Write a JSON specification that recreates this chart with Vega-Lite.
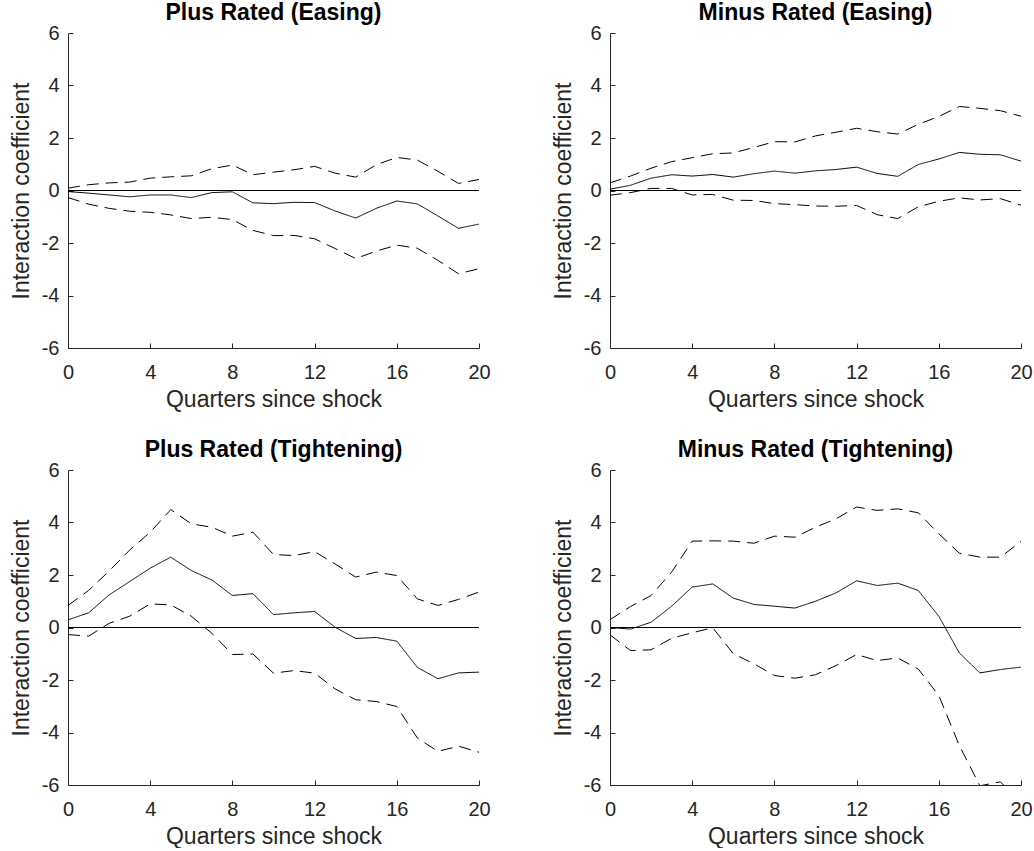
{
  "$schema": "https://vega.github.io/schema/vega-lite/v6.json",
  "background": "white",
  "padding": {"left": 10, "top": 2, "right": 0, "bottom": 0},
  "config": {
    "font": "Liberation Sans",
    "view": {"stroke": null},
    "axis": {
      "grid": false,
      "domainColor": "#262626",
      "domainWidth": 1,
      "tickColor": "#262626",
      "tickWidth": 1,
      "tickSize": -5,
      "labelColor": "#262626",
      "labelFontSize": 20,
      "labelFont": "Liberation Sans",
      "labelFlush": false,
      "labelOverlap": false,
      "titleColor": "#262626",
      "titleFontSize": 23,
      "titleFont": "Liberation Sans",
      "titleFontWeight": "normal"
    },
    "axisX": {"labelPadding": 19, "titlePadding": 6},
    "axisY": {"labelPadding": 14, "titlePadding": 8},
    "title": {
      "fontSize": 23,
      "fontWeight": "bold",
      "color": "black",
      "font": "Liberation Sans",
      "anchor": "middle",
      "frame": "group",
      "baseline": "alphabetic",
      "offset": -2
    }
  },
  "datasets": {
    "irf": [
      {"p": "PE", "q": 0, "est": -0.04, "hi": 0.09, "lo": -0.27},
      {"p": "PE", "q": 1, "est": -0.10, "hi": 0.22, "lo": -0.52},
      {"p": "PE", "q": 2, "est": -0.17, "hi": 0.29, "lo": -0.68},
      {"p": "PE", "q": 3, "est": -0.24, "hi": 0.32, "lo": -0.79},
      {"p": "PE", "q": 4, "est": -0.17, "hi": 0.47, "lo": -0.83},
      {"p": "PE", "q": 5, "est": -0.17, "hi": 0.52, "lo": -0.93},
      {"p": "PE", "q": 6, "est": -0.27, "hi": 0.56, "lo": -1.07},
      {"p": "PE", "q": 7, "est": -0.08, "hi": 0.83, "lo": -1.02},
      {"p": "PE", "q": 8, "est": -0.05, "hi": 0.97, "lo": -1.11},
      {"p": "PE", "q": 9, "est": -0.47, "hi": 0.60, "lo": -1.52},
      {"p": "PE", "q": 10, "est": -0.50, "hi": 0.70, "lo": -1.72},
      {"p": "PE", "q": 11, "est": -0.45, "hi": 0.79, "lo": -1.71},
      {"p": "PE", "q": 12, "est": -0.46, "hi": 0.92, "lo": -1.84},
      {"p": "PE", "q": 13, "est": -0.78, "hi": 0.66, "lo": -2.21},
      {"p": "PE", "q": 14, "est": -1.05, "hi": 0.51, "lo": -2.59},
      {"p": "PE", "q": 15, "est": -0.68, "hi": 0.98, "lo": -2.31},
      {"p": "PE", "q": 16, "est": -0.40, "hi": 1.26, "lo": -2.08},
      {"p": "PE", "q": 17, "est": -0.51, "hi": 1.16, "lo": -2.20},
      {"p": "PE", "q": 18, "est": -0.97, "hi": 0.73, "lo": -2.66},
      {"p": "PE", "q": 19, "est": -1.44, "hi": 0.27, "lo": -3.17},
      {"p": "PE", "q": 20, "est": -1.28, "hi": 0.42, "lo": -2.98},

      {"p": "ME", "q": 0, "est": 0.05, "hi": 0.29, "lo": -0.18},
      {"p": "ME", "q": 1, "est": 0.20, "hi": 0.55, "lo": -0.08},
      {"p": "ME", "q": 2, "est": 0.47, "hi": 0.85, "lo": 0.08},
      {"p": "ME", "q": 3, "est": 0.60, "hi": 1.10, "lo": 0.08},
      {"p": "ME", "q": 4, "est": 0.55, "hi": 1.25, "lo": -0.17},
      {"p": "ME", "q": 5, "est": 0.61, "hi": 1.40, "lo": -0.15},
      {"p": "ME", "q": 6, "est": 0.51, "hi": 1.43, "lo": -0.37},
      {"p": "ME", "q": 7, "est": 0.64, "hi": 1.64, "lo": -0.38},
      {"p": "ME", "q": 8, "est": 0.74, "hi": 1.86, "lo": -0.50},
      {"p": "ME", "q": 9, "est": 0.66, "hi": 1.85, "lo": -0.54},
      {"p": "ME", "q": 10, "est": 0.75, "hi": 2.08, "lo": -0.59},
      {"p": "ME", "q": 11, "est": 0.80, "hi": 2.22, "lo": -0.60},
      {"p": "ME", "q": 12, "est": 0.89, "hi": 2.37, "lo": -0.57},
      {"p": "ME", "q": 13, "est": 0.65, "hi": 2.24, "lo": -0.92},
      {"p": "ME", "q": 14, "est": 0.54, "hi": 2.15, "lo": -1.07},
      {"p": "ME", "q": 15, "est": 0.99, "hi": 2.52, "lo": -0.62},
      {"p": "ME", "q": 16, "est": 1.20, "hi": 2.82, "lo": -0.41},
      {"p": "ME", "q": 17, "est": 1.45, "hi": 3.20, "lo": -0.28},
      {"p": "ME", "q": 18, "est": 1.38, "hi": 3.13, "lo": -0.36},
      {"p": "ME", "q": 19, "est": 1.36, "hi": 3.04, "lo": -0.31},
      {"p": "ME", "q": 20, "est": 1.12, "hi": 2.83, "lo": -0.56},

      {"p": "PT", "q": 0, "est": 0.29, "hi": 0.84, "lo": -0.27},
      {"p": "PT", "q": 1, "est": 0.56, "hi": 1.41, "lo": -0.33},
      {"p": "PT", "q": 2, "est": 1.24, "hi": 2.15, "lo": 0.16},
      {"p": "PT", "q": 3, "est": 1.75, "hi": 2.95, "lo": 0.43},
      {"p": "PT", "q": 4, "est": 2.26, "hi": 3.63, "lo": 0.90},
      {"p": "PT", "q": 5, "est": 2.68, "hi": 4.49, "lo": 0.86},
      {"p": "PT", "q": 6, "est": 2.17, "hi": 3.95, "lo": 0.43},
      {"p": "PT", "q": 7, "est": 1.81, "hi": 3.82, "lo": -0.22},
      {"p": "PT", "q": 8, "est": 1.22, "hi": 3.48, "lo": -1.03},
      {"p": "PT", "q": 9, "est": 1.29, "hi": 3.63, "lo": -1.01},
      {"p": "PT", "q": 10, "est": 0.49, "hi": 2.78, "lo": -1.74},
      {"p": "PT", "q": 11, "est": 0.56, "hi": 2.74, "lo": -1.64},
      {"p": "PT", "q": 12, "est": 0.61, "hi": 2.89, "lo": -1.74},
      {"p": "PT", "q": 13, "est": 0.01, "hi": 2.42, "lo": -2.34},
      {"p": "PT", "q": 14, "est": -0.42, "hi": 1.92, "lo": -2.75},
      {"p": "PT", "q": 15, "est": -0.38, "hi": 2.11, "lo": -2.82},
      {"p": "PT", "q": 16, "est": -0.52, "hi": 1.98, "lo": -3.01},
      {"p": "PT", "q": 17, "est": -1.52, "hi": 1.09, "lo": -4.21},
      {"p": "PT", "q": 18, "est": -1.95, "hi": 0.84, "lo": -4.72},
      {"p": "PT", "q": 19, "est": -1.73, "hi": 1.07, "lo": -4.52},
      {"p": "PT", "q": 20, "est": -1.70, "hi": 1.35, "lo": -4.75},

      {"p": "MT", "q": 0, "est": 0.00, "hi": 0.30, "lo": -0.28},
      {"p": "MT", "q": 1, "est": -0.06, "hi": 0.80, "lo": -0.88},
      {"p": "MT", "q": 2, "est": 0.20, "hi": 1.22, "lo": -0.85},
      {"p": "MT", "q": 3, "est": 0.81, "hi": 2.11, "lo": -0.41},
      {"p": "MT", "q": 4, "est": 1.54, "hi": 3.29, "lo": -0.20},
      {"p": "MT", "q": 5, "est": 1.66, "hi": 3.30, "lo": -0.01},
      {"p": "MT", "q": 6, "est": 1.12, "hi": 3.29, "lo": -1.00},
      {"p": "MT", "q": 7, "est": 0.88, "hi": 3.21, "lo": -1.38},
      {"p": "MT", "q": 8, "est": 0.81, "hi": 3.48, "lo": -1.83},
      {"p": "MT", "q": 9, "est": 0.74, "hi": 3.44, "lo": -1.93},
      {"p": "MT", "q": 10, "est": 1.00, "hi": 3.82, "lo": -1.80},
      {"p": "MT", "q": 11, "est": 1.32, "hi": 4.14, "lo": -1.45},
      {"p": "MT", "q": 12, "est": 1.78, "hi": 4.59, "lo": -1.03},
      {"p": "MT", "q": 13, "est": 1.60, "hi": 4.46, "lo": -1.26},
      {"p": "MT", "q": 14, "est": 1.69, "hi": 4.52, "lo": -1.16},
      {"p": "MT", "q": 15, "est": 1.41, "hi": 4.37, "lo": -1.58},
      {"p": "MT", "q": 16, "est": 0.43, "hi": 3.57, "lo": -2.59},
      {"p": "MT", "q": 17, "est": -0.97, "hi": 2.83, "lo": -4.50},
      {"p": "MT", "q": 18, "est": -1.73, "hi": 2.68, "lo": -6.03},
      {"p": "MT", "q": 19, "est": -1.60, "hi": 2.68, "lo": -5.88},
      {"p": "MT", "q": 20, "est": -1.51, "hi": 3.28, "lo": -6.70}
    ]
  },
  "vconcat": [
    {
      "hconcat": [
        {
          "width": 411, "height": 315,
          "title": "Plus Rated (Easing)",
          "layer": [
            {"data": {"values": [{"z": 0}]}, "mark": {"type": "rule", "color": "black", "strokeWidth": 1}, "encoding": {"y": {"field": "z", "type": "quantitative"}}},
            {
              "data": {"name": "irf"},
              "transform": [{"filter": "datum.p === 'PE'"}, {"fold": ["est", "hi", "lo"], "as": ["series", "value"]}],
              "mark": {"type": "line", "color": "black", "strokeWidth": 1, "clip": true},
              "encoding": {
                "x": {"field": "q", "type": "quantitative", "scale": {"domain": [0, 20], "nice": false}, "axis": {"values": [0, 4, 8, 12, 16, 20], "title": "Quarters since shock"}},
                "y": {"field": "value", "type": "quantitative", "scale": {"domain": [-6, 6], "nice": false}, "axis": {"values": [-6, -4, -2, 0, 2, 4, 6], "labelExpr": "'' + datum.value", "title": "Interaction coefficient"}},
                "detail": {"field": "series"},
                "strokeDash": {"field": "series", "type": "nominal", "scale": {"domain": ["est", "hi", "lo"], "range": [[1, 0], [12, 7], [12, 7]]}, "legend": null}
              }
            }
          ]
        },
        {
          "width": 411, "height": 315,
          "title": "Minus Rated (Easing)",
          "layer": [
            {"data": {"values": [{"z": 0}]}, "mark": {"type": "rule", "color": "black", "strokeWidth": 1}, "encoding": {"y": {"field": "z", "type": "quantitative"}}},
            {
              "data": {"name": "irf"},
              "transform": [{"filter": "datum.p === 'ME'"}, {"fold": ["est", "hi", "lo"], "as": ["series", "value"]}],
              "mark": {"type": "line", "color": "black", "strokeWidth": 1, "clip": true},
              "encoding": {
                "x": {"field": "q", "type": "quantitative", "scale": {"domain": [0, 20], "nice": false}, "axis": {"values": [0, 4, 8, 12, 16, 20], "title": "Quarters since shock"}},
                "y": {"field": "value", "type": "quantitative", "scale": {"domain": [-6, 6], "nice": false}, "axis": {"values": [-6, -4, -2, 0, 2, 4, 6], "labelExpr": "'' + datum.value", "title": "Interaction coefficient"}},
                "detail": {"field": "series"},
                "strokeDash": {"field": "series", "type": "nominal", "scale": {"domain": ["est", "hi", "lo"], "range": [[1, 0], [12, 7], [12, 7]]}, "legend": null}
              }
            }
          ]
        }
      ],
      "spacing": 61
    },
    {
      "hconcat": [
        {
          "width": 411, "height": 315,
          "title": "Plus Rated (Tightening)",
          "layer": [
            {"data": {"values": [{"z": 0}]}, "mark": {"type": "rule", "color": "black", "strokeWidth": 1}, "encoding": {"y": {"field": "z", "type": "quantitative"}}},
            {
              "data": {"name": "irf"},
              "transform": [{"filter": "datum.p === 'PT'"}, {"fold": ["est", "hi", "lo"], "as": ["series", "value"]}],
              "mark": {"type": "line", "color": "black", "strokeWidth": 1, "clip": true},
              "encoding": {
                "x": {"field": "q", "type": "quantitative", "scale": {"domain": [0, 20], "nice": false}, "axis": {"values": [0, 4, 8, 12, 16, 20], "title": "Quarters since shock"}},
                "y": {"field": "value", "type": "quantitative", "scale": {"domain": [-6, 6], "nice": false}, "axis": {"values": [-6, -4, -2, 0, 2, 4, 6], "labelExpr": "'' + datum.value", "title": "Interaction coefficient"}},
                "detail": {"field": "series"},
                "strokeDash": {"field": "series", "type": "nominal", "scale": {"domain": ["est", "hi", "lo"], "range": [[1, 0], [12, 7], [12, 7]]}, "legend": null}
              }
            }
          ]
        },
        {
          "width": 411, "height": 315,
          "title": "Minus Rated (Tightening)",
          "layer": [
            {"data": {"values": [{"z": 0}]}, "mark": {"type": "rule", "color": "black", "strokeWidth": 1}, "encoding": {"y": {"field": "z", "type": "quantitative"}}},
            {
              "data": {"name": "irf"},
              "transform": [{"filter": "datum.p === 'MT'"}, {"fold": ["est", "hi", "lo"], "as": ["series", "value"]}],
              "mark": {"type": "line", "color": "black", "strokeWidth": 1, "clip": true},
              "encoding": {
                "x": {"field": "q", "type": "quantitative", "scale": {"domain": [0, 20], "nice": false}, "axis": {"values": [0, 4, 8, 12, 16, 20], "title": "Quarters since shock"}},
                "y": {"field": "value", "type": "quantitative", "scale": {"domain": [-6, 6], "nice": false}, "axis": {"values": [-6, -4, -2, 0, 2, 4, 6], "labelExpr": "'' + datum.value", "title": "Interaction coefficient"}},
                "detail": {"field": "series"},
                "strokeDash": {"field": "series", "type": "nominal", "scale": {"domain": ["est", "hi", "lo"], "range": [[1, 0], [12, 7], [12, 7]]}, "legend": null}
              }
            }
          ]
        }
      ],
      "spacing": 61
    }
  ],
  "spacing": 28
}
